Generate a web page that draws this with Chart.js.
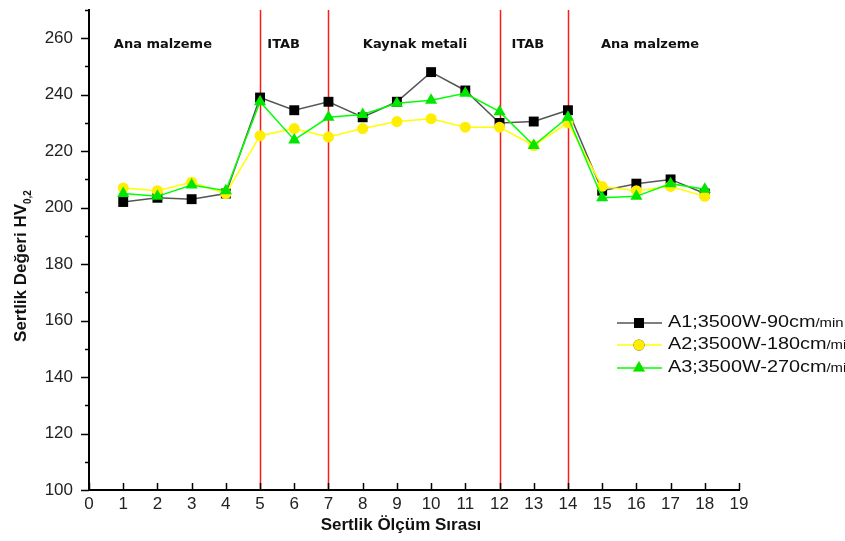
<!DOCTYPE html>
<html>
<head>
<meta charset="utf-8">
<script src="https://cdn.jsdelivr.net/npm/chart.js@4.4.0/dist/chart.umd.min.js"></script>
<style>
  html, body { margin: 0; padding: 0; background: #fff; }
</style>
</head>
<body>
<canvas id="chart" width="845" height="541"></canvas>
<script>
// ölçüm noktaları ve sertlik değerleri
const positions = [1, 2, 3, 4, 5, 6, 7, 8, 9, 10, 11, 12, 13, 14, 15, 16, 17, 18];
const a1 = [202, 203.5, 203, 205, 239, 234.5, 237.5, 232, 237.5, 248, 241.5, 230, 230.5, 234.5, 206, 208.5, 210, 205];
const a2 = [207, 206, 209, 205, 225.5, 228, 225, 228, 230.5, 231.5, 228.5, 228.5, 222, 230, 207.5, 206, 207.5, 204];
const a3 = [205, 204, 208, 206, 237.5, 224, 232, 233, 237, 238, 240.5, 234, 222, 232, 203.5, 204, 208.5, 206.5];
const seriesNames = ["A1;3500W-90cm/min", "A2;3500W-180cm/min", "A3;3500W-270cm/min"];

const yTickValues = [100, 120, 140, 160, 180, 200, 220, 240, 260];
const zoneBorders = [5, 7, 12, 14];
const zoneNames = ["Ana malzeme", "ITAB", "Kaynak metali", "ITAB", "Ana malzeme"];
const zoneCenters = [2.16, 5.69, 9.53, 12.83, 16.4];

const toPoints = vals => positions.map((p, i) => ({ x: p, y: vals[i] }));

// kırmızı bölge çizgileri, tik işaretleri, başlıklar ve lejant
const decor = {
  id: "decor",
  beforeDatasetsDraw(chart) {
    const { ctx, chartArea, scales } = chart;
    ctx.save();
    ctx.strokeStyle = "#ff1a1a";
    ctx.lineWidth = 1.5;
    zoneBorders.forEach(b => {
      const px = Math.round(scales.x.getPixelForValue(b)) + 0.5;
      ctx.beginPath();
      ctx.moveTo(px, chartArea.top);
      ctx.lineTo(px, chartArea.bottom);
      ctx.stroke();
    });
    ctx.restore();
  },
  afterDraw(chart) {
    const { ctx, chartArea, scales } = chart;
    const xs = scales.x, ys = scales.y;
    ctx.save();

    // tikler
    ctx.strokeStyle = "#000";
    ctx.lineWidth = 1.5;
    for (let v = 100; v <= 270; v += 10) {
      const p = Math.round(ys.getPixelForValue(v)) + 0.5;
      const len = v % 20 === 0 ? 8 : 4;
      ctx.beginPath();
      ctx.moveTo(chartArea.left - len, p);
      ctx.lineTo(chartArea.left, p);
      ctx.stroke();
    }
    for (let v = 0; v <= 19; v++) {
      const p = Math.round(xs.getPixelForValue(v)) + 0.5;
      ctx.beginPath();
      ctx.moveTo(p, chartArea.bottom);
      ctx.lineTo(p, chartArea.bottom - 7);
      ctx.stroke();
    }

    // bölge adları
    ctx.fillStyle = "#111";
    ctx.font = "bold 13px 'DejaVu Sans'";
    ctx.textAlign = "center";
    ctx.textBaseline = "middle";
    zoneNames.forEach((n, i) => {
      ctx.fillText(n, xs.getPixelForValue(zoneCenters[i]), 45);
    });

    // eksen başlıkları
    ctx.fillStyle = "#111";
    ctx.font = "bold 17px 'Liberation Sans'";
    ctx.textAlign = "center";
    ctx.fillText("Sertlik Ölçüm Sırası", 401, 525);

    ctx.translate(21, 266);
    ctx.rotate(-Math.PI / 2);
    const main = "Sertlik Değeri HV";
    ctx.font = "bold 17px 'Liberation Sans'";
    const mw = ctx.measureText(main).width;
    ctx.font = "bold 10px 'Liberation Sans'";
    const sw = ctx.measureText("0,2").width;
    const start = -(mw + sw) / 2;
    ctx.textAlign = "left";
    ctx.font = "bold 17px 'Liberation Sans'";
    ctx.fillText(main, start, 0);
    ctx.font = "bold 10px 'Liberation Sans'";
    ctx.fillText("0,2", start + mw, 7);
    ctx.setTransform(1, 0, 0, 1, 0, 0);

    // lejant
    const rows = [323, 345, 368];
    chart.data.datasets.forEach((ds, i) => {
      const y = rows[i];
      ctx.strokeStyle = ds.borderColor;
      ctx.lineWidth = 1.5;
      ctx.beginPath();
      ctx.moveTo(617, y);
      ctx.lineTo(662, y);
      ctx.stroke();
      Chart.helpers.drawPoint(ctx, {
        pointStyle: ds.pointStyle, radius: ds.pointRadius, borderWidth: 0
      }, 639, y);
      ctx.fillStyle = ds.pointBackgroundColor;
      ctx.fill();
      const [head] = ds.label.split("/");
      ctx.save();
      ctx.translate(668, y);
      ctx.scale(1.24, 1);
      ctx.fillStyle = "#111";
      ctx.textAlign = "left";
      ctx.textBaseline = "middle";
      ctx.font = "16px 'Liberation Sans'";
      ctx.fillText(head, 0, 0);
      const hw = ctx.measureText(head).width;
      ctx.font = "12px 'Liberation Sans'";
      ctx.fillText("/min", hw, 1);
      ctx.restore();
    });
    ctx.restore();
  }
};

new Chart(document.getElementById("chart"), {
  type: "line",
  data: {
    datasets: [
      {
        label: seriesNames[0],
        data: toPoints(a1),
        borderColor: "#555555",
        borderWidth: 1.5,
        pointStyle: "rect",
        pointRadius: 7,
        pointBackgroundColor: "#000",
        pointBorderColor: "#000",
        pointBorderWidth: 0,
        order: 3
      },
      {
        label: seriesNames[1],
        data: toPoints(a2),
        borderColor: "#ffff00",
        borderWidth: 1.5,
        pointStyle: "circle",
        pointRadius: 5.5,
        pointBackgroundColor: "#ffee00",
        pointBorderColor: "#ffee00",
        pointBorderWidth: 0,
        order: 2
      },
      {
        label: seriesNames[2],
        data: toPoints(a3),
        borderColor: "#00ff00",
        borderWidth: 1.5,
        pointStyle: "triangle",
        pointRadius: 7,
        pointBackgroundColor: "#00e600",
        pointBorderColor: "#00e600",
        pointBorderWidth: 0,
        order: 1
      }
    ]
  },
  options: {
    responsive: false,
    animation: false,
    layout: { padding: { left: 0, top: 10, right: 106, bottom: 0 } },
    plugins: { legend: { display: false }, tooltip: { enabled: false } },
    scales: {
      x: {
        type: "linear",
        min: 0,
        max: 19,
        ticks: { stepSize: 1, autoSkip: false, maxRotation: 0, padding: 4, color: "#222", font: { family: "Liberation Sans", size: 17 } },
        grid: { display: false, drawTicks: false },
        border: { color: "#000", width: 2 },
        afterFit: s => { s.height = 51; s.paddingLeft = 0; s.paddingRight = 0; }
      },
      y: {
        min: 100,
        max: 270,
        afterBuildTicks: s => { s.ticks = yTickValues.map(v => ({ value: v })); },
        ticks: { padding: 16, color: "#222", font: { family: "Liberation Sans", size: 17 } },
        grid: { display: false, drawTicks: false },
        border: { color: "#000", width: 2 },
        afterFit: s => { s.width = 89; s.paddingTop = 0; s.paddingBottom = 0; }
      }
    }
  },
  plugins: [decor]
});
</script>
</body>
</html>
